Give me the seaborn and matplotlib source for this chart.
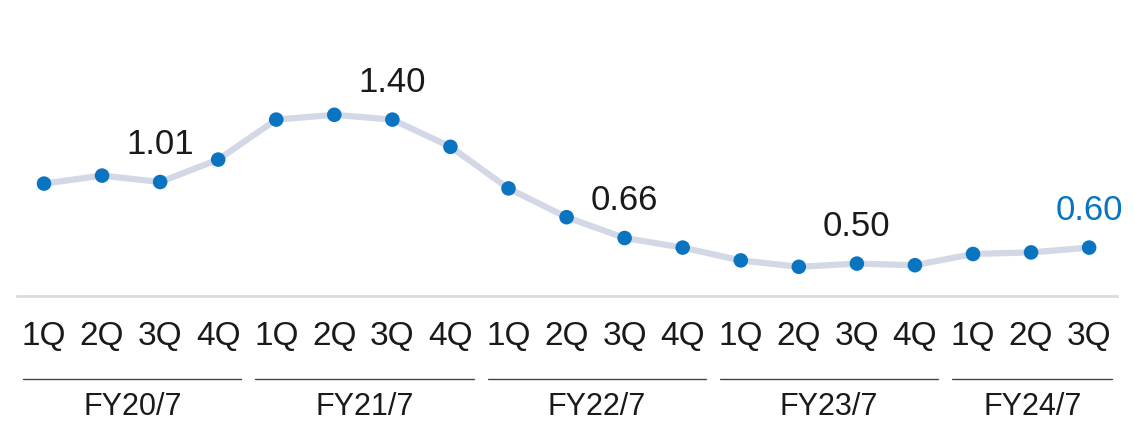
import numpy as np
import pandas as pd
import matplotlib
matplotlib.use("Agg")
import matplotlib.pyplot as plt
import matplotlib.transforms as mtransforms
import seaborn as sns

# ---- data ----
quarters = ["1Q", "2Q", "3Q", "4Q",
            "1Q", "2Q", "3Q", "4Q",
            "1Q", "2Q", "3Q", "4Q",
            "1Q", "2Q", "3Q", "4Q",
            "1Q", "2Q", "3Q"]
values = [1.00, 1.05, 1.01, 1.15,
          1.40, 1.43, 1.40, 1.23,
          0.97, 0.79, 0.66, 0.60,
          0.52, 0.48, 0.50, 0.49,
          0.56, 0.57, 0.60]
fiscal_years = ["FY20/7", "FY21/7", "FY22/7", "FY23/7", "FY24/7"]
fy_counts = [4, 4, 4, 4, 3]
label_idx = [2, 6, 10, 14, 18]
label_text = ["1.01", "1.40", "0.66", "0.50", "0.60"]

sns.set_theme(style="white")
plt.rcParams['font.family'] = ['Liberation Sans', 'DejaVu Sans']

LINE_C = "#d3d8e6"
DOT_C = "#0a74c1"
TXT_C = "#1a1a1a"

df = pd.DataFrame({"x": np.arange(len(values)), "v": values})

fig = plt.figure(figsize=(11.34, 4.21), dpi=100)
ax = fig.add_axes([17 / 1134, (421 - 296) / 421, 1100 / 1134, 296 / 421])

sns.lineplot(data=df, x="x", y="v", ax=ax, color=LINE_C, linewidth=4.5,
             solid_capstyle="round", zorder=2)
sns.scatterplot(data=df, x="x", y="v", ax=ax, color=DOT_C, s=110,
                edgecolor="none", zorder=3)

ax.set_xlim(-0.465, 18.48)
ax.set_ylim(0.2975, 2.1475)

for s in ["top", "right", "left"]:
    ax.spines[s].set_visible(False)
ax.spines["bottom"].set_color("#dcdcdc")
ax.spines["bottom"].set_linewidth(2)

ax.set_yticks([])
ax.set_xticks(np.arange(len(quarters)))
ax.set_xticklabels(quarters, fontsize=24, color=TXT_C)
ax.tick_params(axis="x", length=0, pad=18)
ax.set_xlabel("")
ax.set_ylabel("")

for i, t in zip(label_idx, label_text):
    col = DOT_C if i == len(values) - 1 else TXT_C
    ax.annotate(t, (i, values[i]), xytext=(0, 27), textcoords="offset points",
                ha="center", va="center", fontsize=25, color=col)

trans = mtransforms.blended_transform_factory(ax.transData, fig.transFigure)
start = 0
for fy, n in zip(fiscal_years, fy_counts):
    x0 = start - 0.36
    x1 = start + n - 1 + 0.40
    ax.plot([x0, x1], [0.0998, 0.0998], transform=trans, color="#444444",
            linewidth=1.0, clip_on=False)
    ax.text((x0 + x1) / 2, 6 / 421, fy, transform=trans, ha="center",
            va="baseline", fontsize=22, color=TXT_C)
    start += n

fig.savefig("out.png", dpi=100, facecolor="white")
